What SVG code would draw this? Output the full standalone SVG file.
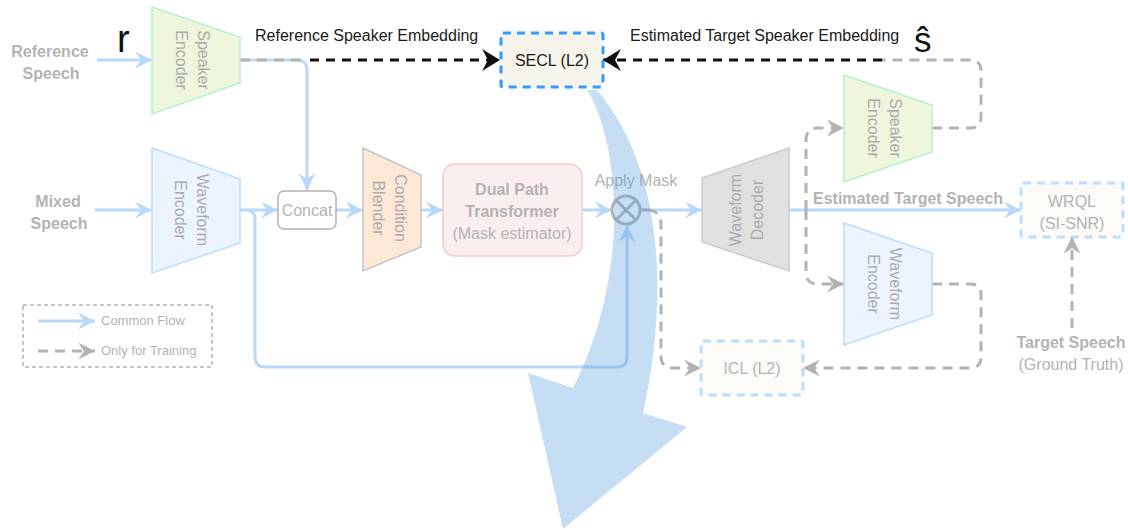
<svg xmlns="http://www.w3.org/2000/svg" width="1128" height="530" viewBox="0 0 1128 530">
  <defs>
    <style>
      text { font-family: "Liberation Sans", Arial, Helvetica, sans-serif; }
      .lbl { fill: #b3b3b3; font-size: 16px; }
      .mid { text-anchor: middle; }
      .bold { font-weight: bold; }
      .dark { fill: #1a1a1a; font-size: 16px; }
      .vt { fill: #ababab; font-size: 16px; text-anchor: middle; }
      .legend-text { fill: #b3b3b3; font-size: 13px; }
      .flow { fill: none; stroke: #b7d9fb; stroke-width: 3; }
      .train { fill: none; stroke: #b3b3b3; stroke-width: 3; stroke-dasharray: 10 7; }
      .emb { fill: none; stroke: #111111; stroke-width: 3; stroke-dasharray: 9 7; }
      .loss { fill: #fbfaf7; stroke: #b9dcff; stroke-width: 3; stroke-dasharray: 8 6; }
      .spk { fill: #eef6dc; stroke: #b5f0cf; stroke-width: 1.5; }
      .wav { fill: #ebf4ff; stroke: #bcdcff; stroke-width: 1.5; }
    </style>
    <marker id="head-flow" viewBox="-18 -10 19 20" refX="0" refY="0" markerWidth="19" markerHeight="20" orient="auto" markerUnits="userSpaceOnUse">
      <path d="M0,0 L-17,-8.5 L-11,0 L-17,8.5 Z" fill="#b7d9fb"/>
    </marker>
    <marker id="head-train" viewBox="-18 -10 19 20" refX="0" refY="0" markerWidth="19" markerHeight="20" orient="auto" markerUnits="userSpaceOnUse">
      <path d="M0,0 L-17,-8.5 L-11,0 L-17,8.5 Z" fill="#b3b3b3"/>
    </marker>
    <marker id="head-emb" viewBox="-19 -12 20 24" refX="0" refY="0" markerWidth="20" markerHeight="24" orient="auto" markerUnits="userSpaceOnUse">
      <path d="M0,0 L-18,-11 L-12,0 L-18,11 Z" fill="#111111"/>
    </marker>
  </defs>

  <rect width="1128" height="530" fill="#ffffff"/>

  <!-- connectors -->
  <g id="connectors">
    <path class="flow" d="M97,60 H152" marker-end="url(#head-flow)"/>
    <path class="flow" d="M95,210 H152" marker-end="url(#head-flow)"/>
    <path class="flow" d="M240,210 H278" marker-end="url(#head-flow)"/>
    <path class="flow" d="M246,210 Q255,210 255,219 V357 Q255,367 265,367 H617 Q627,367 627,357 V225" marker-end="url(#head-flow)"/>
    <path class="flow" d="M240,60 H297 Q307,60 307,70 V190" marker-end="url(#head-flow)"/>
    <path class="train" d="M240,60 H302"/>
    <path class="emb" d="M310,60 H500" marker-end="url(#head-emb)"/>
    <path class="flow" d="M336,210 H363" marker-end="url(#head-flow)"/>
    <path class="flow" d="M421,210 H443" marker-end="url(#head-flow)"/>
    <path class="flow" d="M582,210 H612" marker-end="url(#head-flow)"/>
    <path d="M640,210 H650" fill="none" stroke="#b3b3b3" stroke-width="3"/>
    <path class="flow" d="M650,210 H702" marker-end="url(#head-flow)"/>
    <path class="train" d="M648,210 Q661,211 661,224 V356 Q661,368 673,368 H701" marker-end="url(#head-train)"/>
    <path class="flow" d="M789,210 H1021" marker-end="url(#head-flow)"/>
    <path class="train" d="M806,210 V140 Q806,128 818,128 H844" marker-end="url(#head-train)"/>
    <path class="train" d="M806,210 V272 Q806,284 818,284 H844" marker-end="url(#head-train)"/>
    <path class="train" d="M932,128 H970 Q981,128 981,117 V71 Q981,60 970,60 H882"/>
    <path class="emb" d="M882,60 H603" marker-end="url(#head-emb)"/>
    <path class="train" d="M932,284 H970 Q981,284 981,295 V357 Q981,368 970,368 H803" marker-end="url(#head-train)"/>
    <path class="train" d="M1072,328 V237" marker-end="url(#head-train)"/>

    <text class="dark" x="255" y="41">Reference Speaker Embedding</text>
    <text class="dark" x="630" y="41">Estimated Target Speaker Embedding</text>
    <text class="lbl bold" x="813" y="204">Estimated Target Speech</text>
    <text x="117" y="52" font-size="38" fill="#111111">r</text>
    <text x="914" y="52" font-size="35" fill="#111111">ŝ</text>
  </g>

  <!-- inputs -->
  <g id="reference-speech">
    <text class="lbl bold mid" x="50" y="57">Reference</text>
    <text class="lbl bold mid" x="51" y="79">Speech</text>
  </g>
  <g id="mixed-speech">
    <text class="lbl bold mid" x="58" y="207">Mixed</text>
    <text class="lbl bold mid" x="59" y="229">Speech</text>
  </g>

  <g id="speaker-encoder">
    <polygon class="spk" points="152,7 240,37 240,83 152,114"/>
    <text class="vt" transform="translate(193,60) rotate(90)"><tspan x="0" y="-5">Speaker</tspan><tspan x="0" y="17">Encoder</tspan></text>
  </g>

  <g id="waveform-encoder">
    <polygon class="wav" points="152,148 240,179 240,243 152,273"/>
    <text class="vt" transform="translate(192,210) rotate(90)"><tspan x="0" y="-5">Waveform</tspan><tspan x="0" y="17">Encoder</tspan></text>
  </g>

  <g id="concat">
    <rect x="278" y="191" width="58" height="38" rx="6" fill="#ffffff" stroke="#b3b3b3" stroke-width="1.5"/>
    <text class="lbl mid" x="307" y="216" font-size="15.5">Concat</text>
  </g>

  <g id="condition-blender">
    <polygon points="363,148 421,175 421,247 363,271" fill="#fde8d5" stroke="#c4c4c4" stroke-width="1.5"/>
    <text class="vt" transform="translate(390,208) rotate(90)"><tspan x="0" y="-5">Condition</tspan><tspan x="0" y="17">Blender</tspan></text>
  </g>

  <g id="dual-path-transformer">
    <rect x="443" y="164" width="139" height="92" rx="12" fill="#fbeeee" stroke="#f2cccc" stroke-width="1.5"/>
    <text class="lbl bold mid" x="512" y="195">Dual Path</text>
    <text class="lbl bold mid" x="512" y="217">Transformer</text>
    <text class="lbl mid" x="512" y="239">(Mask estimator)</text>
  </g>

  <g id="apply-mask">
    <circle cx="626" cy="210" r="14" fill="#ffffff" stroke="#b3b3b3" stroke-width="3"/>
    <path d="M616,200 L636,220 M616,220 L636,200" stroke="#b3b3b3" stroke-width="3"/>
    <text class="lbl mid" x="636" y="186">Apply Mask</text>
  </g>

  <g id="waveform-decoder">
    <polygon points="702,178 789,148 789,271 702,242" fill="#e0e0e0" stroke="#cccccc" stroke-width="1.5"/>
    <text class="vt" transform="translate(746,210) rotate(-90)"><tspan x="0" y="-5">Waveform</tspan><tspan x="0" y="17">Decoder</tspan></text>
  </g>

  <g id="speaker-encoder-2">
    <polygon class="spk" points="844,75 932,105 932,152 844,182"/>
    <text class="vt" transform="translate(885,128) rotate(90)"><tspan x="0" y="-5">Speaker</tspan><tspan x="0" y="17">Encoder</tspan></text>
  </g>

  <g id="waveform-encoder-2">
    <polygon class="wav" points="844,223 932,253 932,315 844,345"/>
    <text class="vt" transform="translate(885,284) rotate(90)"><tspan x="0" y="-5">Waveform</tspan><tspan x="0" y="17">Encoder</tspan></text>
  </g>

  <g id="secl">
    <rect x="501" y="33" width="102" height="54" rx="2" fill="#f7f4ec" stroke="#3399ff" stroke-width="3" stroke-dasharray="8 6"/>
    <text class="dark mid" x="552" y="66">SECL (L2)</text>
  </g>

  <g id="icl">
    <rect class="loss" x="701" y="341" width="102" height="54" rx="2"/>
    <text class="lbl mid" x="752" y="374">ICL (L2)</text>
  </g>

  <g id="wrql">
    <rect class="loss" x="1021" y="183" width="102" height="54" rx="2"/>
    <text class="lbl mid" x="1072" y="207">WRQL</text>
    <text class="lbl mid" x="1072" y="229">(SI-SNR)</text>
  </g>

  <g id="target-speech">
    <text class="lbl bold mid" x="1071" y="348">Target Speech</text>
    <text class="lbl mid" x="1071" y="370">(Ground Truth)</text>
  </g>

  <g id="legend">
    <rect x="23" y="305" width="189" height="62" fill="none" stroke="#b3b3b3" stroke-width="1.5" stroke-dasharray="4 3"/>
    <path class="flow" d="M38,321 H95" marker-end="url(#head-flow)"/>
    <text class="legend-text" x="101" y="325">Common Flow</text>
    <path class="train" d="M38,351 H95" stroke-dasharray="9 8" marker-end="url(#head-train)"/>
    <text class="legend-text" x="101" y="355">Only for Training</text>
  </g>

  <!-- translucent curved arrow from SECL sweeping down -->
  <g id="sweep-arrow">
    <path d="M587,90 C616,135 635,265 573,388 L528,373 L563,529 L687,427 L643,413 C668,300 665,170 597,90 Z" fill="#5ba0dc" fill-opacity="0.35"/>
  </g>
</svg>
